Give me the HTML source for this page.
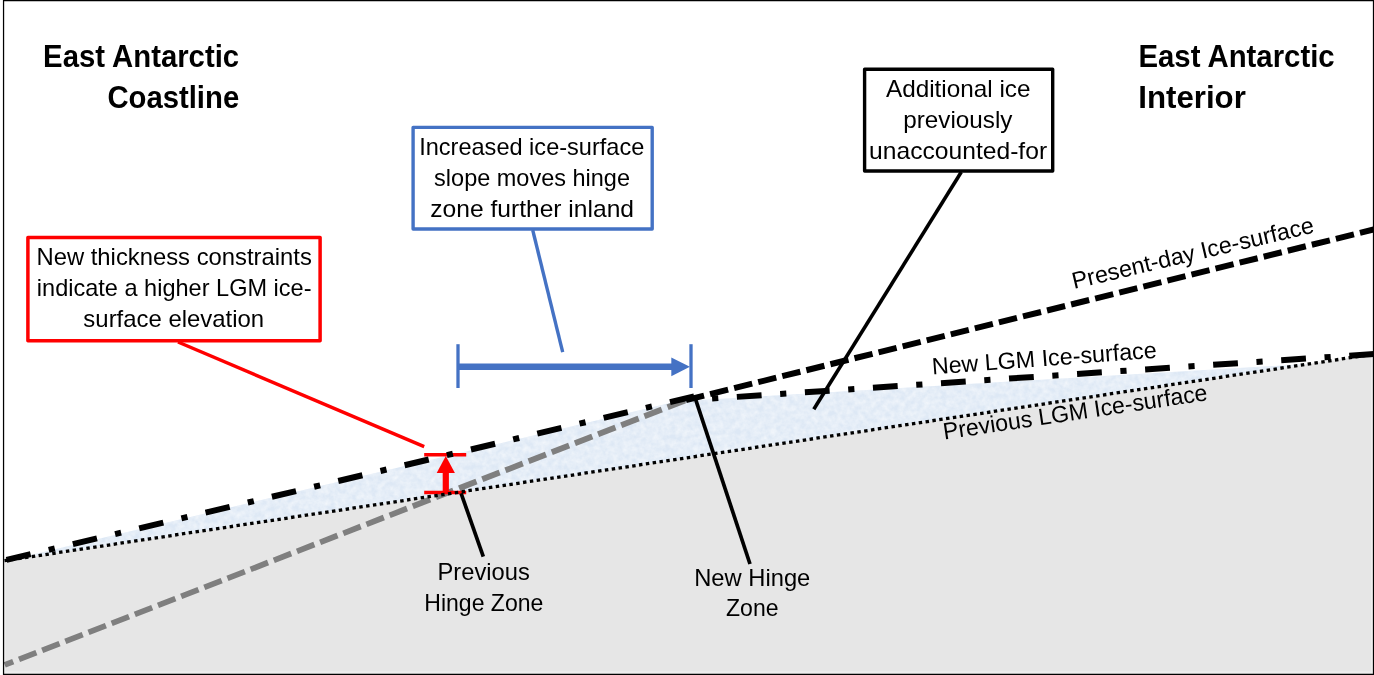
<!DOCTYPE html>
<html lang="en"><head><meta charset="utf-8"><title>East Antarctic LGM ice-surface schematic</title>
<style>
html,body{margin:0;padding:0;background:#fff;}
body{width:1374px;height:675px;overflow:hidden;}
svg{display:block;}
text{font-family:'Liberation Sans', sans-serif;}
</style></head><body>
<svg width="1374" height="675" viewBox="0 0 1374 675">
<defs>
<clipPath id="frame"><rect x="3.6" y="0.6" width="1369.9" height="673.6"/></clipPath>
<filter id="frost" x="0" y="0" width="100%" height="100%" color-interpolation-filters="sRGB">
<feTurbulence type="fractalNoise" baseFrequency="0.17" numOctaves="3" seed="7" result="n"/>
<feColorMatrix in="n" type="matrix" values="0 0 0 0 1  0 0 0 0 1  0 0 0 0 1  0.9 0 0 0 -0.2" result="w"/>
<feComposite in="w" in2="SourceGraphic" operator="in" result="wm"/>
<feMerge><feMergeNode in="SourceGraphic"/><feMergeNode in="wm"/></feMerge>
</filter>
</defs>
<rect x="0" y="0" width="1374" height="675" fill="#fff"/>
<g clip-path="url(#frame)">
<polygon points="4.0,560.8 1373.5,354.2 1373.5,675 4.0,675" fill="#e6e6e6"/>
<path d="M4.7 561.8 V672.3 H1372.1 V355.2" fill="none" stroke="#ededed" stroke-width="2.2"/>
<polygon points="6.5,560.6999999999999 694.1,397.2 696,400.2 1308,363.9 4.0,560.8" fill="#dde8f5" filter="url(#frost)"/>
<line x1="4.7" y1="664.9" x2="686.4" y2="400.0" stroke="#7f7f7f" stroke-width="5.8" stroke-dasharray="18.65 6.2" stroke-dashoffset="9.5"/>
<g stroke="#ff0000" fill="none"><line x1="178" y1="342" x2="424.2" y2="446.6" stroke-width="3.5"/><line x1="424.2" y1="454.7" x2="466.2" y2="454.7" stroke-width="3.5"/><line x1="424.2" y1="492.5" x2="466.2" y2="492.5" stroke-width="3.5"/><line x1="445.8" y1="492.5" x2="445.8" y2="472" stroke-width="6.2"/></g><polygon points="445.8,456 454.9,473 436.7,473" fill="#ff0000"/>
<line x1="4.0" y1="560.8" x2="1373.5" y2="354.2" stroke="#000" stroke-width="3.3" stroke-dasharray="3.45 3.45" stroke-dashoffset="-0.5"/>
<line x1="686.0" y1="400.1" x2="1380.0" y2="227.85" stroke="#000" stroke-width="6" stroke-dasharray="18.6 6.2"/>
<line x1="6.5" y1="559.9" x2="694.1" y2="396.4" stroke="#000" stroke-width="6" stroke-dasharray="24.8 18.6 6.2 18.6"/>
<line x1="1374.0" y1="354.0" x2="693.4" y2="399.8" stroke="#000" stroke-width="6" stroke-dasharray="24.8 18.6 6.2 18.6"/>
<g stroke="#000" fill="none"><line x1="461.1" y1="493.3" x2="483.3" y2="556.7" stroke-width="3.7"/><line x1="695.2" y1="398.1" x2="750" y2="564" stroke-width="3.7"/><line x1="961.3" y1="172" x2="813.8" y2="409.2" stroke-width="3.6"/></g>
<g stroke="#4472c4" fill="none"><line x1="532.7" y1="230" x2="562.7" y2="352.2" stroke-width="3.4"/><line x1="458.0" y1="344.2" x2="458.0" y2="388" stroke-width="3.3"/><line x1="691.0" y1="344.2" x2="691.0" y2="388" stroke-width="3.3"/><line x1="458.0" y1="366.7" x2="673" y2="366.7" stroke-width="6.4"/></g><polygon points="689.9,366.8 671.3,357.4 671.3,376.2" fill="#4472c4"/>
<rect x="27.9" y="237.4" width="292.2" height="103.4" fill="#fff" stroke="#ff0000" stroke-width="3.5" stroke-linejoin="round"/>
<rect x="413.1" y="127.4" width="239.1" height="101.6" fill="#fff" stroke="#4472c4" stroke-width="3.4" stroke-linejoin="round"/>
<rect x="864.6" y="69.3" width="188.1" height="101.7" fill="#fff" stroke="#000" stroke-width="3.4" stroke-linejoin="round"/>
<text x="43.12" y="67.0" font-size="31.0" font-weight="bold" textLength="196.01" lengthAdjust="spacingAndGlyphs" fill="#000">East Antarctic</text>
<text x="107.43" y="108.4" font-size="31.0" font-weight="bold" textLength="131.74" lengthAdjust="spacingAndGlyphs" fill="#000">Coastline</text>
<text x="1138.48" y="67.0" font-size="31.0" font-weight="bold" textLength="196.15" lengthAdjust="spacingAndGlyphs" fill="#000">East Antarctic</text>
<text x="1138.22" y="108.4" font-size="31.0" font-weight="bold" textLength="107.61" lengthAdjust="spacingAndGlyphs" fill="#000">Interior</text>
<text x="36.49" y="265.3" font-size="23.4" font-weight="normal" textLength="275.32" lengthAdjust="spacingAndGlyphs" fill="#000">New thickness constraints</text>
<text x="36.83" y="296.3" font-size="23.4" font-weight="normal" textLength="274.71" lengthAdjust="spacingAndGlyphs" fill="#000">indicate a higher LGM ice-</text>
<text x="83.39" y="327.4" font-size="23.4" font-weight="normal" textLength="180.79" lengthAdjust="spacingAndGlyphs" fill="#000">surface elevation</text>
<text x="419.18" y="154.9" font-size="23.4" font-weight="normal" textLength="225.12" lengthAdjust="spacingAndGlyphs" fill="#000">Increased ice-surface</text>
<text x="434.13" y="186.2" font-size="23.4" font-weight="normal" textLength="195.87" lengthAdjust="spacingAndGlyphs" fill="#000">slope moves hinge</text>
<text x="430.29" y="217.1" font-size="23.4" font-weight="normal" textLength="203.7" lengthAdjust="spacingAndGlyphs" fill="#000">zone further inland</text>
<text x="885.96" y="97.0" font-size="23.4" font-weight="normal" textLength="144.53" lengthAdjust="spacingAndGlyphs" fill="#000">Additional ice</text>
<text x="903.26" y="128.3" font-size="23.4" font-weight="normal" textLength="109.21" lengthAdjust="spacingAndGlyphs" fill="#000">previously</text>
<text x="869.13" y="159.4" font-size="23.4" font-weight="normal" textLength="177.98" lengthAdjust="spacingAndGlyphs" fill="#000">unaccounted-for</text>
<text x="437.55" y="579.5" font-size="23.4" font-weight="normal" textLength="92.27" lengthAdjust="spacingAndGlyphs" fill="#000">Previous</text>
<text x="424.26" y="610.5" font-size="23.4" font-weight="normal" textLength="119.1" lengthAdjust="spacingAndGlyphs" fill="#000">Hinge Zone</text>
<text x="694.17" y="585.5" font-size="23.4" font-weight="normal" textLength="116.15" lengthAdjust="spacingAndGlyphs" fill="#000">New Hinge</text>
<text x="726.04" y="616.4" font-size="23.4" font-weight="normal" textLength="52.5" lengthAdjust="spacingAndGlyphs" fill="#000">Zone</text>
<text x="-2.05" y="0" transform="translate(1075.9 288.5) rotate(-13.2)" font-size="23.4" textLength="247.79" lengthAdjust="spacingAndGlyphs" fill="#000">Present-day Ice-surface</text>
<text x="-2.03" y="0" transform="translate(934.4 374.4) rotate(-4.3)" font-size="23.4" textLength="225.38" lengthAdjust="spacingAndGlyphs" fill="#000">New LGM Ice-surface</text>
<text x="-1.87" y="0" transform="translate(946.1 439.3) rotate(-8.5)" font-size="23.4" textLength="267.00" lengthAdjust="spacingAndGlyphs" fill="#000">Previous LGM Ice-surface</text>
</g>
<path d="M3.55 675 V0.6 H1373.5 V674.25 H3.55" fill="none" stroke="#000" stroke-width="1.25"/>
</svg></body></html>
